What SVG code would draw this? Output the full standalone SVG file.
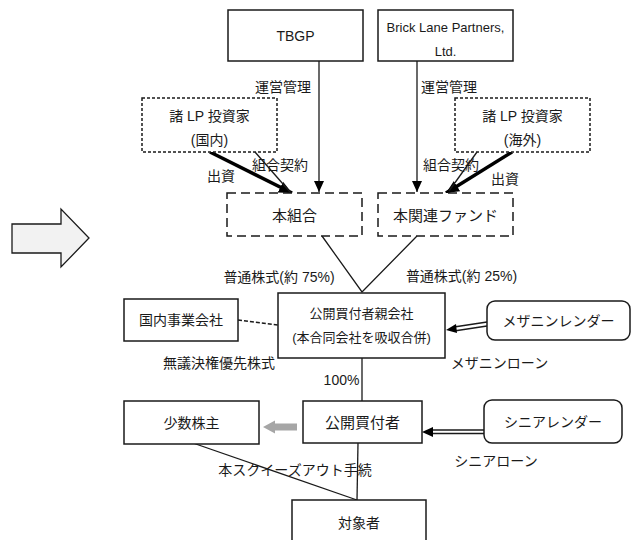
<svg xmlns="http://www.w3.org/2000/svg" width="632" height="540" viewBox="0 0 632 540">
<style>
text{font-family:"Liberation Sans","Noto Sans CJK JP",sans-serif;fill:#1a1a1a;text-anchor:middle;dominant-baseline:central}
.box{fill:#fff;stroke:#1a1a1a;stroke-width:1.5}
.dsh{fill:#fff;stroke:#1a1a1a;stroke-width:1.5;stroke-dasharray:3 2}
.dl{fill:#fff;stroke:#1a1a1a;stroke-width:1.5;stroke-dasharray:9 5}
.ln{stroke:#1a1a1a;stroke-width:1.3;fill:none}
.thk{stroke:#000;stroke-width:3.5;fill:none}
.l14{font-size:14px}
.l15{font-size:15px}
.l13{font-size:13px}
</style>
<defs>
<marker id="ah" markerUnits="userSpaceOnUse" markerWidth="12" markerHeight="12" viewBox="0 0 12 12" refX="11" refY="6" orient="auto"><path d="M0,1 L11,6 L0,11 Z" fill="#000"/></marker>
<marker id="ahk" markerUnits="userSpaceOnUse" markerWidth="14" markerHeight="14" viewBox="0 0 14 14" refX="13" refY="7" orient="auto"><path d="M0,1 L13,7 L0,13 Z" fill="#000"/></marker>
</defs>

<polygon points="12,224 61,224 61,209 89,238 61,267 61,253 12,253" fill="#f2f2f2" stroke="#1a1a1a" stroke-width="1.3"/>

<g id="connectors">
<line class="ln" x1="319" y1="61" x2="319" y2="192" marker-end="url(#ah)"/>
<line class="ln" x1="417" y1="61" x2="417" y2="192" marker-end="url(#ah)"/>
<line class="thk" x1="210" y1="152" x2="292" y2="193" marker-end="url(#ahk)"/>
<line class="ln" x1="255" y1="152" x2="290" y2="192"/>
<line class="thk" x1="512" y1="152" x2="446" y2="193" marker-end="url(#ahk)"/>
<line class="ln" x1="477" y1="152" x2="449" y2="191"/>
<polyline class="ln" points="322,236 362,292 417,236"/>
<line x1="238" y1="320" x2="278" y2="325" stroke="#1a1a1a" stroke-width="1.5" stroke-dasharray="4 2"/>
<line class="ln" x1="487" y1="322" x2="454" y2="327"/>
<line class="ln" x1="487" y1="326" x2="454" y2="331"/>
<polygon points="446,330 456,324 457,333" fill="#000"/>
<line class="ln" x1="362" y1="358" x2="362" y2="401"/>
<line class="ln" x1="484" y1="430" x2="431" y2="430"/>
<line class="ln" x1="484" y1="433.5" x2="431" y2="433.5"/>
<polygon points="422,432 433,427 433,437" fill="#000"/>
<polygon points="263,427 275,420.5 275,423.5 297,423.5 297,430.5 275,430.5 275,433.5" fill="#a6a6a6"/>
<line class="ln" x1="358" y1="443" x2="357" y2="500"/>
<line class="ln" x1="190" y1="442" x2="357" y2="500"/>
</g>

<g id="tbgp"><rect class="box" x="228" y="10" width="135" height="51"/><text class="l14" x="295.5" y="36">TBGP</text></g>
<g id="brick"><rect class="box" x="378" y="10" width="135" height="51"/><text class="l13" x="445.5" y="27">Brick Lane Partners,</text><text class="l13" x="445.5" y="51">Ltd.</text></g>
<g id="lp-domestic"><rect class="dsh" x="142" y="98" width="135" height="54"/><text class="l14" x="209.5" y="116">諸 LP 投資家</text><text class="l14" x="209.5" y="140">(国内)</text></g>
<g id="lp-overseas"><rect class="dsh" x="455" y="98" width="135" height="54"/><text class="l14" x="522.5" y="116">諸 LP 投資家</text><text class="l14" x="522.5" y="140">(海外)</text></g>
<g id="honkumiai"><rect class="dl" x="227" y="193" width="135" height="43"/><text class="l15" x="294.5" y="215">本組合</text></g>
<g id="kanren"><rect class="dl" x="378" y="193" width="135" height="43"/><text class="l15" x="445.5" y="215">本関連ファンド</text></g>
<g id="oya"><rect class="box" x="278" y="293" width="167" height="65"/><text class="l13" x="361.5" y="313">公開買付者親会社</text><text class="l13" x="361.5" y="337">(本合同会社を吸収合併)</text></g>
<g id="jigyo"><rect class="box" x="124" y="299" width="114" height="42"/><text class="l14" x="181" y="320">国内事業会社</text></g>
<g id="mezz"><rect class="box" x="487" y="301" width="143" height="39" rx="8"/><text class="l14" x="558.5" y="320.5">メザニンレンダー</text></g>
<g id="koukai"><rect class="box" x="303" y="401" width="119" height="42"/><text class="l15" x="362.5" y="422">公開買付者</text></g>
<g id="shosu"><rect class="box" x="124" y="401" width="135" height="43"/><text class="l14" x="191.5" y="422.5">少数株主</text></g>
<g id="senior"><rect class="box" x="484" y="400" width="138" height="43" rx="8"/><text class="l14" x="553" y="421.5">シニアレンダー</text></g>
<g id="taisho"><rect class="box" x="292" y="500" width="134" height="48"/><text class="l14" x="359" y="523">対象者</text></g>

<g id="labels">
<text class="l14" x="283" y="87">運営管理</text>
<text class="l14" x="449" y="87">運営管理</text>
<text class="l14" x="280" y="165">組合契約</text>
<text class="l14" x="221" y="176">出資</text>
<text class="l14" x="451" y="165">組合契約</text>
<text class="l14" x="505" y="179">出資</text>
<text class="l14" x="279" y="277">普通株式(約 75%)</text>
<text class="l14" x="461.5" y="276">普通株式(約 25%)</text>
<text class="l14" x="219" y="363">無議決権優先株式</text>
<text class="l14" x="499.5" y="363">メザニンローン</text>
<text class="l14" x="341.5" y="380">100%</text>
<text class="l14" x="496" y="461">シニアローン</text>
<text class="l14" x="295" y="470">本スクイーズアウト手続</text>
</g>
</svg>
